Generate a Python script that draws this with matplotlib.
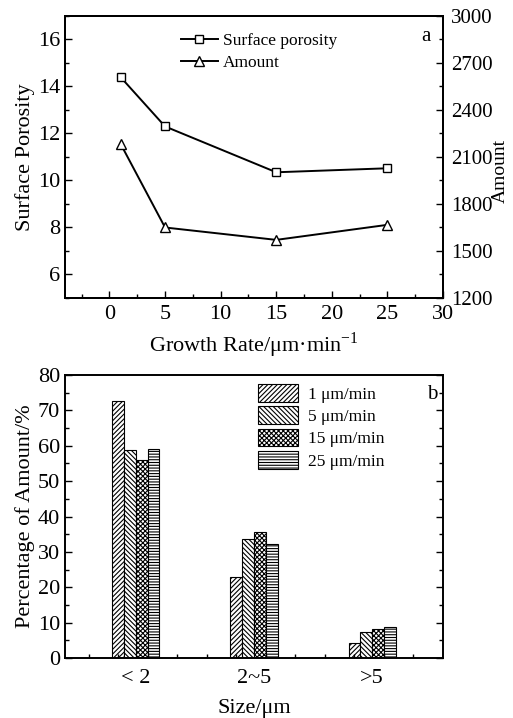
import numpy as np
import matplotlib
matplotlib.use("Agg")
import matplotlib.pyplot as plt
from matplotlib.ticker import MultipleLocator, FixedLocator

plt.rcParams['font.family'] = ['Liberation Serif', 'DejaVu Serif']
plt.rcParams['mathtext.fontset'] = 'custom'
plt.rcParams['mathtext.rm'] = 'Liberation Serif'
plt.rcParams['hatch.linewidth'] = 0.8

# Panel a data
growth_rate = [1, 5, 15, 25]
surface_porosity = [14.4, 12.3, 10.35, 10.52]
amount = [2184, 1650, 1571, 1667]

# Panel b data
size_labels = ['< 2', '2~5', '>5']
series_labels = ['1 μm/min', '5 μm/min', '15 μm/min', '25 μm/min']
pct_1 = [72.7, 23.0, 4.2]
pct_5 = [58.7, 33.7, 7.4]
pct_15 = [56.1, 35.5, 8.3]
pct_25 = [59.1, 32.1, 8.75]
hatches = ['///////', '\\\\\\\\\\\\\\', 'xxxxxxx', '------']

W, H = 513, 718
fig = plt.figure(figsize=(W / 100, H / 100), dpi=100)

FS = 16
LFS = 12.5


def style_axis(ax):
    for s in ax.spines.values():
        s.set_linewidth(1.4)
    ax.tick_params(which='both', direction='in', labelsize=FS, width=1.0)
    ax.tick_params(which='major', length=5)
    ax.tick_params(which='minor', length=3)


# ---- panel a ----
ax1 = fig.add_axes([65 / W, 1 - 298 / H, 378 / W, 282 / H])
ax2 = ax1.twinx()
l1, = ax1.plot(growth_rate, surface_porosity, '-s', color='black', lw=1.4,
               ms=6, mfc='white', mec='black', mew=1.0, label='Surface porosity')
l2, = ax2.plot(growth_rate, amount, '-^', color='black', lw=1.4,
               ms=7, mfc='white', mec='black', mew=1.0, label='Amount')
ax1.set_xlim(-4, 30)
ax1.set_ylim(5, 17)
ax2.set_ylim(1200, 3000)
ax1.xaxis.set_major_locator(MultipleLocator(5))
ax1.xaxis.set_minor_locator(MultipleLocator(2.5))
ax1.yaxis.set_major_locator(MultipleLocator(2))
ax1.yaxis.set_minor_locator(MultipleLocator(1))
ax2.yaxis.set_major_locator(MultipleLocator(300))
ax2.yaxis.set_minor_locator(MultipleLocator(150))
style_axis(ax1)
style_axis(ax2)
ax1.tick_params(top=False, right=False)
ax1.tick_params(axis='x', which='major', pad=5)
ax2.tick_params(left=False)
ax2.tick_params(axis='y', which='major', pad=6, labelsize=15)
ax1.set_ylabel('Surface Porosity', fontsize=FS, labelpad=2)
ax2.set_ylabel('Amount', fontsize=14)
ax2.yaxis.set_label_coords(1.1285, 0.45)
ax1.set_xlabel('Growth Rate/μm·min$^{-1}$', fontsize=FS, labelpad=5)
ax1.text(0.955, 0.927, 'a', transform=ax1.transAxes, fontsize=15,
         ha='center', va='center')
ax1.legend(handles=[l1, l2], loc='upper left', bbox_to_anchor=(0.307, 0.94),
           frameon=False, fontsize=LFS, handlelength=2.1, handletextpad=0.3,
           labelspacing=0.35, borderaxespad=0, borderpad=0)

# ---- panel b ----
ax3 = fig.add_axes([65 / W, 1 - 658 / H, 378 / W, 283 / H])
x = np.arange(1, len(size_labels) + 1)
bw = 0.1
for i, (vals, lab, h) in enumerate(zip([pct_1, pct_5, pct_15, pct_25],
                                       series_labels, hatches)):
    ax3.bar(x + (i - 1.5) * bw, vals, width=bw, color='white',
            edgecolor='black', hatch=h, linewidth=0.8, label=lab)
ax3.set_xlim(0.4, 3.6)
ax3.set_ylim(0, 80)
ax3.set_xticks(x)
ax3.set_xticklabels(size_labels)
ax3.xaxis.set_minor_locator(FixedLocator(np.arange(0.6, 3.4, 0.25)))
ax3.yaxis.set_major_locator(MultipleLocator(10))
ax3.yaxis.set_minor_locator(MultipleLocator(5))
style_axis(ax3)
ax3.tick_params(axis='x', which='major', length=0, pad=8)
ax3.tick_params(right=True, which='both')
ax3.set_ylabel('Percentage of Amount/%', fontsize=FS, labelpad=2)
ax3.set_xlabel('Size/μm', fontsize=FS, labelpad=8)
ax3.text(0.971, 0.93, 'b', transform=ax3.transAxes, fontsize=15,
         ha='center', va='center')
ax3.legend(loc='upper left', bbox_to_anchor=(0.51, 0.968), frameon=False,
           fontsize=LFS, handlelength=2.3, handleheight=1.2,
           handletextpad=0.6, labelspacing=0.2, borderaxespad=0, borderpad=0)

fig.savefig('out.png', dpi=100)
